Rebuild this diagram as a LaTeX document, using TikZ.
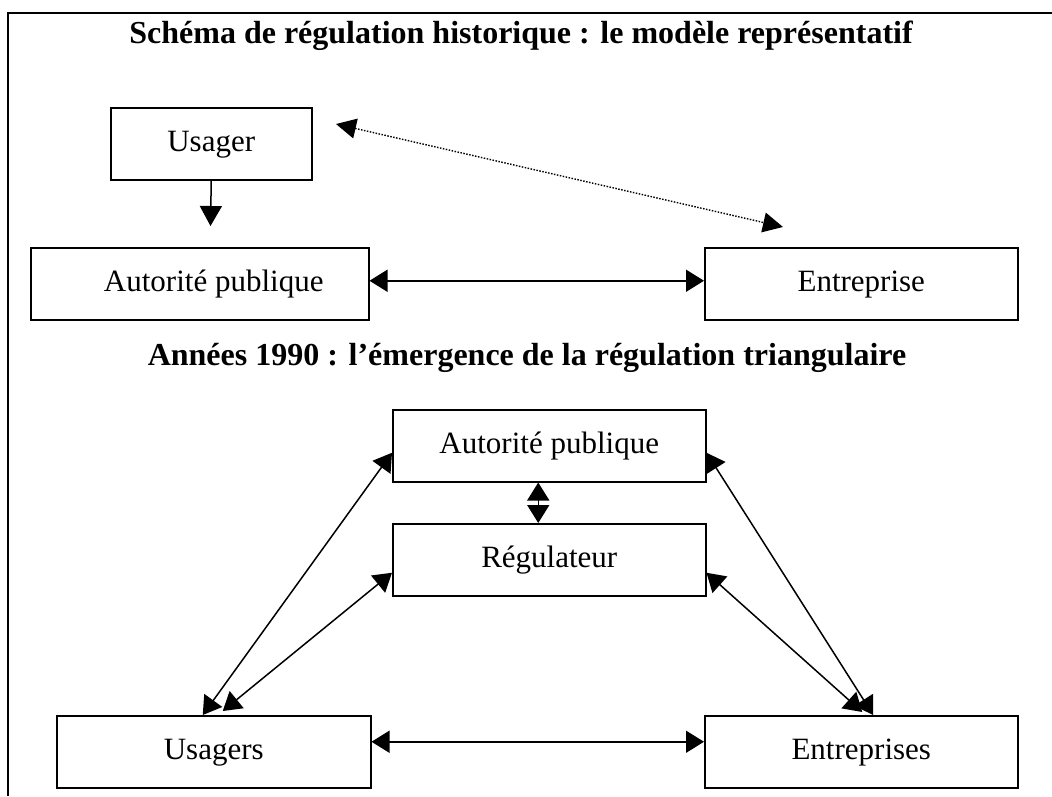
\documentclass[tikz,border=0pt]{standalone}
\usepackage{fontspec}
\setmainfont{Liberation Serif}
\usetikzlibrary{arrows.meta}
\begin{document}
\begin{tikzpicture}[x=1pt,y=-1pt,
  box/.style={draw,line width=1.5pt,anchor=north west,inner sep=0pt,
    font=\fontsize{31}{36}\selectfont,text height=22pt,text depth=7pt},
  ttl/.style={anchor=base,inner sep=0pt,font=\fontsize{32}{38}\selectfont\bfseries},
  conn/.style={line width=1.5pt,{Triangle[length=18pt,width=22pt]}-{Triangle[length=18pt,width=22pt]}},
  oneway/.style={line width=1.5pt,-{Triangle[length=20pt,width=22pt]}},
  dots/.style={line width=1.4pt,dash pattern=on 1.5pt off 1.5pt,{Triangle[length=20pt,width=20pt]}-{Triangle[length=20pt,width=20pt]}},
  frame/.style={line width=1.8pt}]
\useasboundingbox (0,0) rectangle (1052,796);
% frame
\coordinate (fa) at (1052,13);
\coordinate (fb) at (8,13);
\coordinate (fc) at (8,796);
\draw[frame] (fa) -- (fb) -- (fc);
% titles
\node[ttl] (t1) at (521,43) {Schéma de régulation historique : le modèle représentatif};
\node[ttl] (t2) at (527,365) {Années 1990 : l’émergence de la régulation triangulaire};
% top part
\node[box,minimum width=201pt,minimum height=72pt] (us1) at (110,107) {Usager};
\node[box,minimum width=338pt,minimum height=72pt] (ap1) at (30,247) {\hspace*{28pt}Autorité publique};
\node[box,minimum width=313pt,minimum height=72pt] (en1) at (704,247) {Entreprise};
\coordinate (d1) at (210.5,226);
\draw[oneway] (us1.south) -- (d1);
\draw[conn] ([yshift=3pt]ap1.east) -- ([yshift=3pt]en1.west);
\coordinate (p1) at (336,124);
\coordinate (p2) at (783,227);
\draw[dots] (p1) -- (p2);
% bottom part
\node[box,minimum width=313pt,minimum height=72pt] (ap2) at (392,409) {Autorité publique};
\node[box,minimum width=313pt,minimum height=72pt] (rg) at (392,523) {Régulateur};
\node[box,minimum width=314pt,minimum height=72pt] (us2) at (56,715) {Usagers};
\node[box,minimum width=313pt,minimum height=72pt] (en2) at (704,715) {Entreprises};
\draw[conn] ([xshift=-11pt]ap2.south) -- ([xshift=-11pt]rg.north);
\draw[conn] ([yshift=10pt]us2.east) -- ([yshift=10pt]en2.west);
\draw[conn] ([yshift=-7pt]ap2.west) -- ([xshift=-11pt]us2.north);
\draw[conn] ([yshift=-13pt]rg.west) -- ([xshift=9pt,yshift=4pt]us2.north);
\draw[conn] ([yshift=-7pt]ap2.east) -- ([xshift=12pt]en2.north);
\draw[conn] ([yshift=-13pt]rg.east) -- ([xshift=1pt,yshift=3pt]en2.north);
\end{tikzpicture}
\end{document}
